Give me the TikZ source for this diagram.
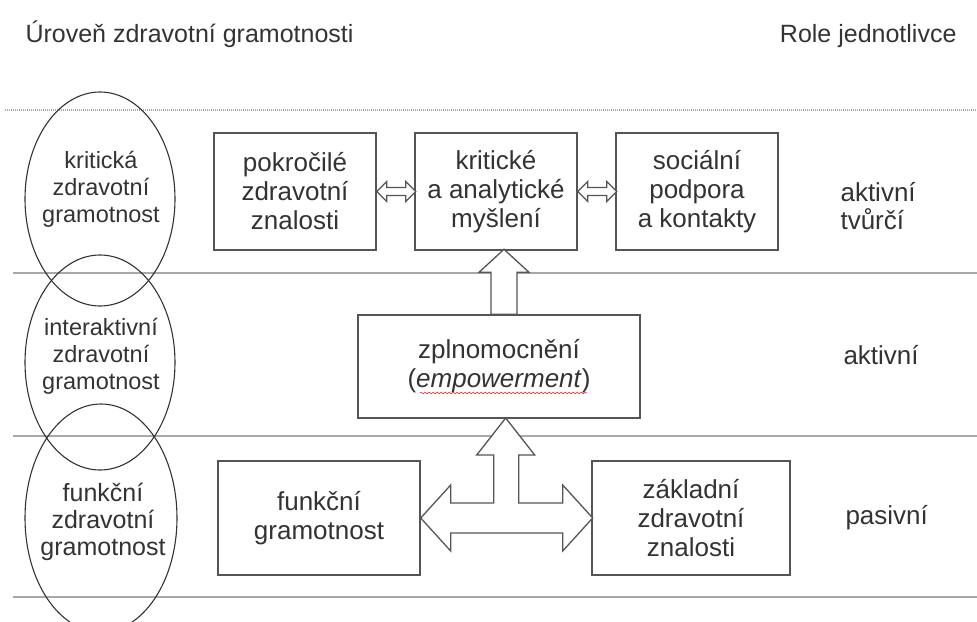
\documentclass[tikz,border=0pt]{standalone}
\usepackage{fontspec}
\setmainfont{Liberation Sans}
\usepackage{xcolor}
\usetikzlibrary{shapes.geometric,decorations.pathmorphing}
\definecolor{txt}{HTML}{333333}
\definecolor{rulegray}{HTML}{A8A8A8}
\definecolor{edgegray}{HTML}{555555}
\newcommand{\fsz}[2]{\fontsize{#1}{#2}\selectfont}

\begin{document}
\begin{tikzpicture}[x=1pt,y=-1pt,
  box/.style={draw=edgegray,line width=1.4,fill=white,minimum width=162,minimum height=117,inner sep=0,align=center,text=txt,font={\fsz{26}{29}}},
  lvl/.style={ellipse,draw=black!80,line width=1.1,inner sep=0,minimum width=150},
  lvltext/.style={align=center,text=txt,font={\fsz{23.5}{27}}},
  role/.style={align=left,anchor=west,text=txt,font={\fsz{26}{28}}},
  hollow/.style={draw=edgegray,line width=1.3,fill=white,line join=miter}]
\useasboundingbox (0,0) rectangle (977,621);
\node[anchor=base west,text=txt,font={\fsz{25}{28}}] (lvlhead) at (22,42) {Úroveň zdravotní gramotnosti};
\node[anchor=base east,text=txt,font={\fsz{25}{28}}] (rolehead) at (960,42) {Role jednotlivce};
% layer borders
\draw[rulegray,line width=1.8,dash pattern=on 1pt off 1pt] (5,110) -- (977,110);
\draw[rulegray,line width=1.8] (13,273) -- (977,273);
\draw[rulegray,line width=1.8] (13,436) -- (977,436);
\draw[rulegray,line width=1.8] (13,597) -- (977,597);
% levels
\node[lvl,minimum height=214] (ekrit) at (100,199) {};
\node[lvl,minimum height=215] (einter) at (100,362.5) {};
\node[lvl,minimum width=152,minimum height=228] (efunk) at (101,518) {};
\node[lvltext] (tkrit) at (101,189) {kritická\\zdravotní\\gramotnost};
\node[lvltext] (tinter) at (101,356) {interaktivní\\zdravotní\\gramotnost};
\node[lvltext,font={\fsz{25}{27}}] (tfunk) at (103,522) {funkční\\zdravotní\\gramotnost};
% boxes
\node[box] (pok) at (295,191.5) {pokročilé\\zdravotní\\znalosti};
\node[box] (kam) at (496,191.5) {kritické\\a analytické\\myšlení};
\node[box] (soc) at (697,191.5) {sociální\\podpora\\a kontakty};
\node[box,minimum width=282,minimum height=103] (zp) at (499,366.5) {zplnomocnění\\(\textit{empowerment})};
\node[box,minimum width=202,minimum height=114] (fg) at (319,518) {funkční\\gramotnost};
\node[box,minimum width=198,minimum height=114] (zz) at (691,518) {základní\\zdravotní\\znalosti};
\draw[red!80,line width=0.6,decorate,decoration={snake,amplitude=0.8,segment length=4}] (420,393) -- (587,393);
% roles
\node[role] (rtv) at (837,206) {aktivní\\tvůrčí};
\node[role] (rak) at (840,355) {aktivní};
\node[role] (rpa) at (842,518) {pasivní};
% arrows
\draw[hollow] (pok.east) -- ++(10,-10) -- ++(0,6) -- ++(19,0) -- ++(0,-6) -- ++(10,10)
  -- ++(-10,10) -- ++(0,-6) -- ++(-19,0) -- ++(0,6) -- cycle;
\draw[hollow] (kam.east) -- ++(10,-10) -- ++(0,6) -- ++(19,0) -- ++(0,-6) -- ++(10,10)
  -- ++(-10,10) -- ++(0,-6) -- ++(-19,0) -- ++(0,6) -- cycle;
\draw[hollow] ([xshift=-8pt]zp.north) -- ++(0,-42) -- ++(-12,0) -- ++(25,-23) -- ++(25,23)
  -- ++(-12,0) -- ++(0,42) -- cycle;
\draw[hollow] (fg.east) -- ++(30,-33) -- ++(0,18) -- ++(43,0) -- ++(0,-48) -- ++(-17,0)
  -- ++(29,-37) -- ++(29,37) -- ++(-16,0) -- ++(0,48) -- ++(44,0) -- ++(0,-18)
  -- ++(30,33) -- ++(-30,33) -- ++(0,-18) -- ++(-112,0) -- ++(0,18) -- cycle;
\end{tikzpicture}
\end{document}
